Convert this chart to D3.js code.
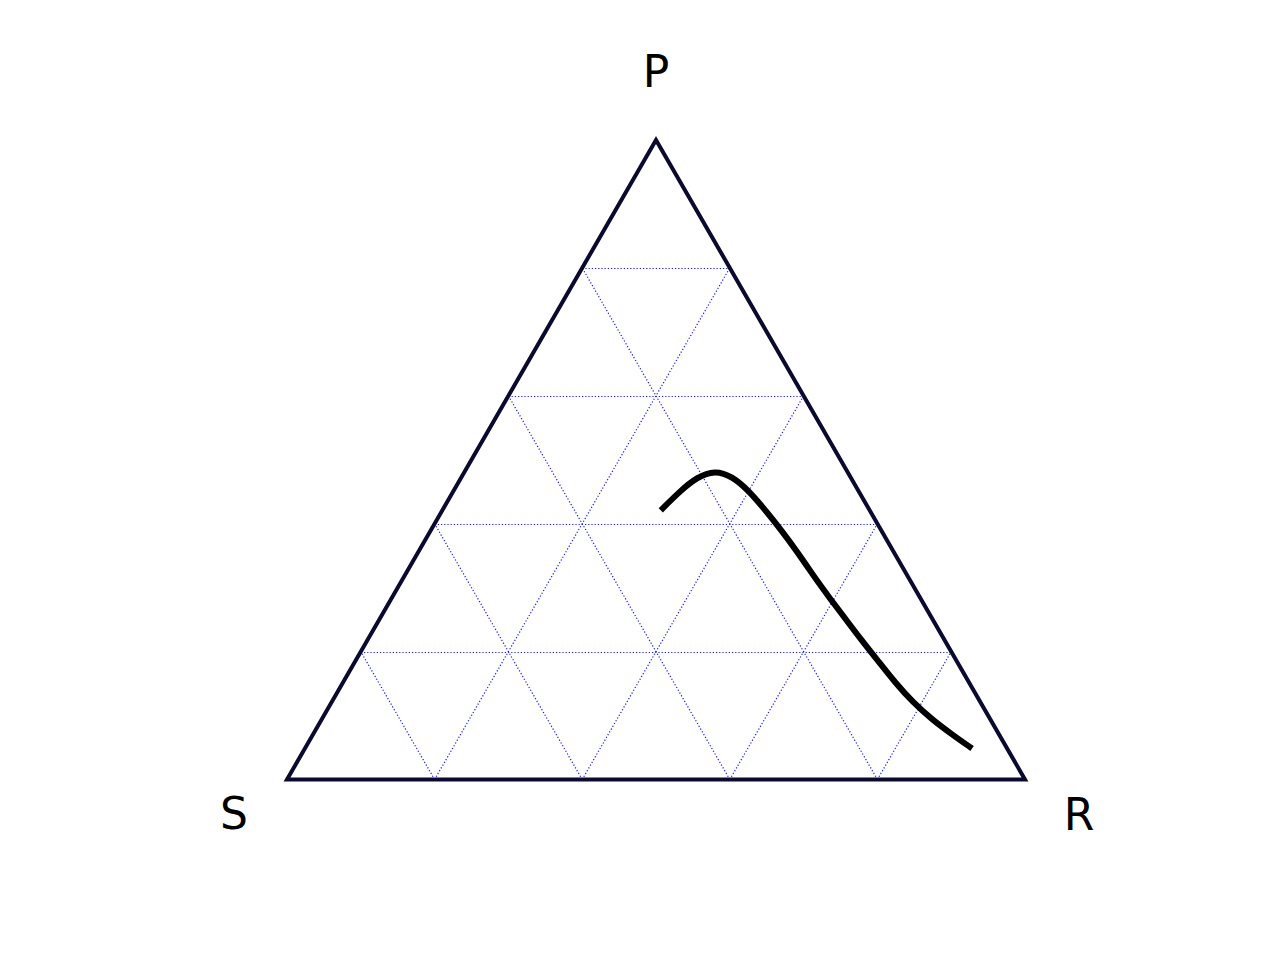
<!DOCTYPE html>
<html><head><meta charset="utf-8">
<script src="https://cdn.jsdelivr.net/npm/d3@7"></script>
<style>body{margin:0;background:#fff;}svg{display:block;}</style>
</head><body>
<script>
// Data (ternary coordinates: P = top, R = bottom-right, S = bottom-left)
const vertexLabels = ["S", "R", "P"];
const gridSteps = [0.2, 0.4, 0.6, 0.8];
const curveP = [0.421,0.4507,0.4726,0.4836,0.4742,0.4523,0.4225,0.3881,0.3537,0.3177,0.2833,0.2504,0.2175,0.1847,0.1518,0.1205,0.0939,0.0704,0.0485];
const curveR = [0.296,0.307,0.319,0.338,0.366,0.399,0.436,0.477,0.516,0.555,0.594,0.632,0.670,0.709,0.748,0.788,0.827,0.866,0.904];

const W = 1280, H = 960;
const svg = d3.select("body").append("svg").attr("width", W).attr("height", H);

const xScale = d3.scaleLinear().domain([0, 1]).range([287, 1025]);
const yScale = d3.scaleLinear().domain([0, 1]).range([779.5, 140]);
// project (p, r) -> pixel
const px = (p, r) => xScale(r + p / 2);
const py = (p) => yScale(p);

// grid
const grid = svg.append("g").attr("stroke", "#1a1ad0").attr("stroke-width", 1.2)
  .attr("stroke-dasharray", "1.2,2").attr("fill", "none");
gridSteps.forEach(k => {
  // constant P
  grid.append("line").attr("x1", px(k, 0)).attr("y1", Math.round(py(k)) + 0.5).attr("x2", px(k, 1 - k)).attr("y2", Math.round(py(k)) + 0.5);
  // constant R
  grid.append("line").attr("x1", px(0, k)).attr("y1", py(0)).attr("x2", px(1 - k, k)).attr("y2", py(1 - k));
  // constant S (s = k => p + r = 1-k)
  grid.append("line").attr("x1", px(0, 1 - k)).attr("y1", py(0)).attr("x2", px(1 - k, 0)).attr("y2", py(1 - k));
});

// boundary
const corners = [[0, 0], [0, 1], [1, 0]]; // [p, r] for S, R, P
svg.append("path")
  .attr("d", "M" + corners.map(c => px(c[0], c[1]) + "," + py(c[0])).join("L") + "Z")
  .attr("fill", "none").attr("stroke", "#0a0a2e").attr("stroke-width", 4).attr("stroke-linejoin", "miter");

// curve
const pts = curveP.map((p, i) => [px(p, curveR[i]), py(p)]);
svg.append("path").attr("d", d3.line().curve(d3.curveBasis)(pts))
  .attr("fill", "none").attr("stroke", "#000").attr("stroke-width", 6).attr("stroke-linecap", "butt");

// labels
const labelPos = [[234, 829], [1079, 830], [656, 87]];
vertexLabels.forEach((t, i) => {
  svg.append("text").attr("x", labelPos[i][0]).attr("y", labelPos[i][1])
    .attr("text-anchor", "middle").attr("font-family", "DejaVu Sans").attr("font-size", 44)
    .attr("fill", "#000").text(t);
});
</script>
</body></html>
